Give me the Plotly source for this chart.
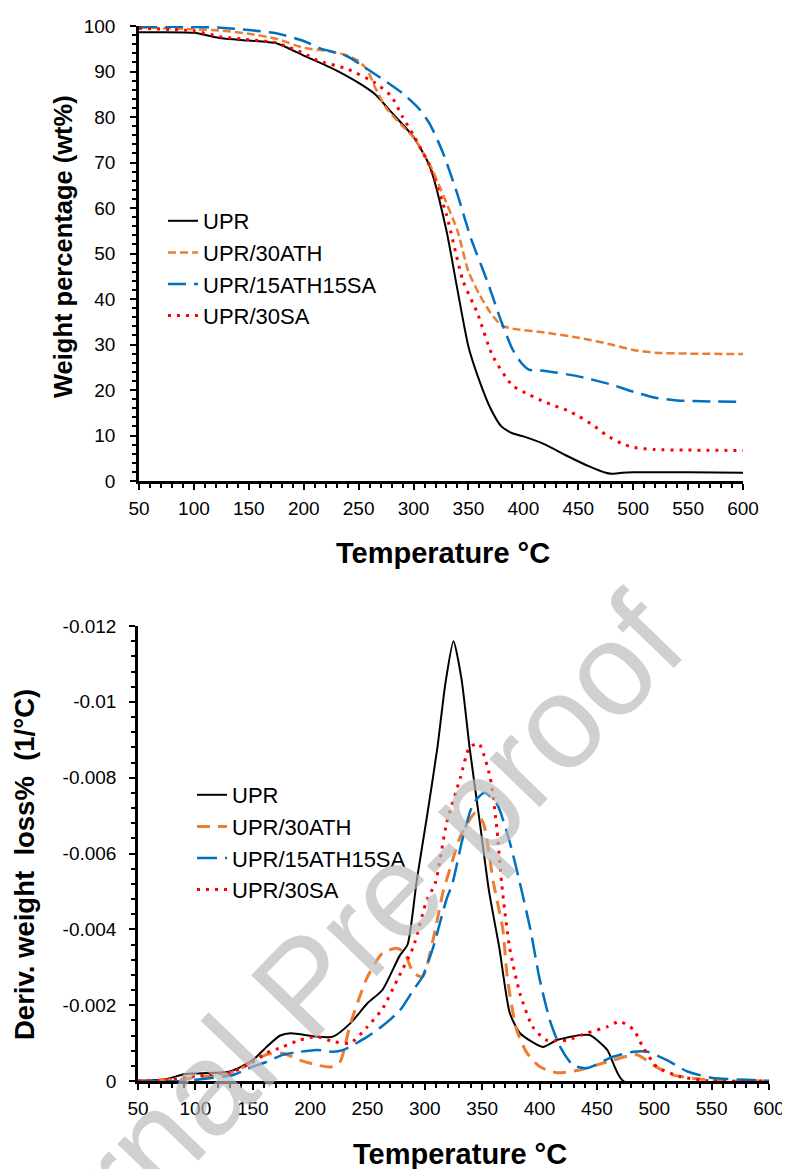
import plotly.graph_objects as go

# ---------------- data: TGA (weight %) ----------------
t_upr = [50, 100, 125, 150, 175, 200, 225, 250, 265, 280, 300, 315, 330, 340, 350, 360, 370, 380, 390, 400, 420, 440, 460, 475, 480, 490, 500, 550, 600]
w_upr = [98.6, 98.5, 97.3, 96.8, 96.2, 93.5, 90.8, 87.5, 85.0, 81.0, 75.6, 69.0, 55.0, 42.0, 29.5, 22.0, 16.0, 12.0, 10.5, 9.8, 8.0, 5.5, 3.2, 1.8, 1.6, 1.8, 1.9, 1.9, 1.8]

t_ath = [50, 75, 100, 125, 150, 175, 200, 225, 240, 250, 258, 265, 275, 290, 300, 315, 325, 340, 350, 360, 370, 380, 390, 420, 450, 480, 500, 520, 550, 600]
w_ath = [99.7, 99.5, 99.3, 99.0, 98.3, 97.2, 95.2, 94.4, 93.5, 92.3, 90.3, 86.5, 82.0, 78.0, 75.5, 69.5, 64.0, 55.0, 46.0, 41.0, 37.0, 34.2, 33.5, 32.6, 31.5, 30.0, 28.8, 28.2, 28.0, 27.9]

t_mix = [50, 100, 125, 150, 175, 200, 215, 240, 255, 270, 290, 305, 315, 327, 340, 352, 367, 380, 390, 398, 405, 420, 450, 480, 500, 520, 540, 570, 600]
w_mix = [99.8, 99.8, 99.6, 99.1, 98.4, 96.7, 95.1, 93.3, 91.0, 88.6, 85.2, 81.8, 78.4, 72.0, 63.0, 53.5, 44.0, 35.0, 29.0, 26.0, 24.5, 24.2, 23.0, 21.2, 19.6, 18.3, 17.7, 17.5, 17.4]

t_sa = [50, 100, 125, 150, 175, 200, 212, 240, 265, 280, 290, 300, 315, 330, 345, 358, 372, 390, 405, 420, 440, 450, 465, 476, 490, 500, 520, 550, 600]
w_sa = [99.5, 98.9, 97.6, 97.0, 96.3, 94.0, 92.5, 90.5, 87.5, 84.5, 80.0, 76.0, 69.0, 58.5, 44.0, 37.0, 27.5, 21.0, 19.0, 17.3, 15.5, 14.3, 12.0, 10.0, 8.2, 7.4, 6.9, 6.8, 6.7]

# ---------------- data: DTG (deriv. weight loss) ----------------
dt_upr = [50, 75, 90, 100, 130, 150, 162, 174, 183, 206, 220, 235, 250, 263, 278, 285, 293, 302, 311, 318, 325, 332, 339, 348, 356, 365, 374, 383, 403, 415, 435, 444, 459, 473, 600]
d_upr = [0, -0.00005, -0.00018, -0.0002, -0.00025, -0.00055, -0.0009, -0.0012, -0.00126, -0.00117, -0.00117, -0.00152, -0.00205, -0.0024, -0.0033, -0.0036, -0.0053, -0.007, -0.0088, -0.0105, -0.0116, -0.0106, -0.0088, -0.0068, -0.005, -0.0035, -0.0018, -0.00126, -0.0009, -0.00108, -0.00121, -0.00121, -0.00082, 0, 0]

dt_ath = [50, 90, 100, 130, 150, 162, 176, 191, 206, 218, 226, 235, 250, 263, 275, 282, 290, 298, 307, 316, 322, 331, 344, 351, 360, 368, 372, 380, 389, 400, 415, 435, 464, 485, 499, 516, 540, 560, 600]
d_ath = [0, -0.00005, -0.0001, -0.0002, -0.0005, -0.0007, -0.00073, -0.00055, -0.00042, -0.00037, -0.0005, -0.0015, -0.00275, -0.00337, -0.0035, -0.0034, -0.00285, -0.00275, -0.0037, -0.005, -0.0056, -0.00645, -0.00707, -0.0068, -0.0052, -0.004, -0.0027, -0.00135, -0.00074, -0.00038, -0.00022, -0.00029, -0.00055, -0.00069, -0.00042, -0.00016, -0.00005, 0, 0]

dt_mix = [50, 90, 100, 133, 150, 162, 176, 191, 206, 220, 229, 250, 263, 278, 290, 298, 307, 319, 324, 333, 342, 352, 363, 374, 383, 392, 400, 409, 418, 429, 441, 464, 482, 494, 511, 529, 551, 581, 600]
d_mix = [0, 0, -0.00003, -0.00016, -0.00038, -0.0005, -0.00069, -0.00077, -0.00082, -0.00077, -0.00082, -0.00117, -0.00145, -0.00185, -0.0024, -0.00275, -0.0035, -0.0048, -0.0052, -0.0064, -0.0073, -0.0076, -0.0073, -0.0063, -0.0052, -0.004, -0.0027, -0.0016, -0.0009, -0.00042, -0.00034, -0.00064, -0.00077, -0.00077, -0.00055, -0.00025, -0.00008, -0.00003, 0]

dt_sa = [50, 75, 92, 100, 133, 150, 162, 176, 191, 206, 220, 235, 250, 263, 276, 290, 302, 309, 319, 331, 339, 347, 357, 363, 367, 374, 383, 394, 406, 424, 441, 459, 470, 482, 490, 502, 522, 550, 600]
d_sa = [0, -0.00002, -0.0001, -0.00013, -0.00025, -0.0005, -0.00074, -0.0009, -0.00108, -0.00117, -0.00104, -0.001, -0.00143, -0.0019, -0.00267, -0.00354, -0.0048, -0.0052, -0.0068, -0.008, -0.0088, -0.0089, -0.008, -0.0066, -0.0052, -0.0035, -0.0023, -0.00143, -0.00108, -0.00108, -0.00126, -0.00143, -0.00157, -0.00135, -0.0009, -0.00038, -0.00012, 0, 0]

names = ["UPR", "UPR/30ATH", "UPR/15ATH15SA", "UPR/30SA"]
x_ticks = [50, 100, 150, 200, 250, 300, 350, 400, 450, 500, 550, 600]
w_ticks = [0, 10, 20, 30, 40, 50, 60, 70, 80, 90, 100]
d_tickvals = [0, -0.002, -0.004, -0.006, -0.008, -0.01, -0.012]
d_ticktext = ["0", "-0.002", "-0.004", "-0.006", "-0.008", "-0.01", "-0.012"]

BLACK = "#000000"
ORANGE = "#ED7D31"
BLUE = "#0070C0"
RED = "#FF0000"
FONT = "Liberation Sans, Arial, sans-serif"

fig = go.Figure()

top_styles = [
    dict(color=BLACK, width=2, dash="solid"),
    dict(color=ORANGE, width=2.5, dash="8px,4px"),
    dict(color=BLUE, width=2.5, dash="18px,8px"),
    dict(color=RED, width=3, dash="3px,6px"),
]
bot_styles = [
    dict(color=BLACK, width=2, dash="solid"),
    dict(color=ORANGE, width=3, dash="13px,8px"),
    dict(color=BLUE, width=2.5, dash="20px,8px"),
    dict(color=RED, width=3, dash="3px,6px"),
]

top_data = [(t_upr, w_upr), (t_ath, w_ath), (t_mix, w_mix), (t_sa, w_sa)]
bot_data = [(dt_upr, d_upr), (dt_ath, d_ath), (dt_mix, d_mix), (dt_sa, d_sa)]

for (x, y), name, st in zip(top_data, names, top_styles):
    fig.add_trace(go.Scatter(x=x, y=y, mode="lines", name=name, line=dict(shape="spline", smoothing=0.6, **st),
                             xaxis="x", yaxis="y", legend="legend"))
for (x, y), name, st in zip(bot_data, names, bot_styles):
    fig.add_trace(go.Scatter(x=x, y=y, mode="lines", name=name, line=dict(shape="spline", smoothing=0.6, **st),
                             xaxis="x2", yaxis="y2", legend="legend2"))

# the page body has an 8px margin: the figure starts at (8, 8) of the window
OFF = 8
W, H = 790 - OFF, 1169 - OFF

def px(xp):
    return (xp - OFF) / W

def py(yp):
    return 1 - (yp - OFF) / H

axis_common = dict(showgrid=False, zeroline=False, showline=True, linecolor="black", linewidth=2.5,
                   ticks="outside", ticklen=6, tickwidth=2, tickcolor="black", automargin=False,
                   tickfont=dict(family=FONT, size=19, color="black"), mirror=False)

minor_x = dict(dtick=10, tick0=50, ticklen=4, tickwidth=1.5, tickcolor="black", ticks="outside")

fig.update_layout(
    width=W, height=H,
    margin=dict(l=0, r=0, t=0, b=0, autoexpand=False),
    paper_bgcolor="white", plot_bgcolor="white",
    showlegend=True,
    xaxis=dict(domain=[px(139), px(743)], range=[50, 600], anchor="y", tickmode="array", tickvals=x_ticks,
               minor=minor_x, ticklabelstandoff=2, **axis_common),
    yaxis=dict(domain=[py(481), py(26)], range=[0, 100], anchor="x", tickmode="array", tickvals=w_ticks,
               minor=dict(dtick=2, tick0=0, ticklen=4, tickwidth=1.5, tickcolor="black", ticks="outside"),
               ticklabelstandoff=11, **axis_common),
    xaxis2=dict(domain=[px(138), px(769)], range=[50, 600], anchor="y2", tickmode="array", tickvals=x_ticks,
                minor=minor_x, ticklabelstandoff=2, **axis_common),
    yaxis2=dict(domain=[py(1081), py(626)], range=[0, -0.012], anchor="x2", tickmode="array",
                tickvals=d_tickvals, ticktext=d_ticktext,
                minor=dict(dtick=0.0004, tick0=0, ticklen=4, tickwidth=1.5, tickcolor="black", ticks="outside"),
                ticklabelstandoff=9, **axis_common),
    legend=dict(x=px(163), y=py(200), xanchor="left", yanchor="top", bgcolor="rgba(0,0,0,0)",
                font=dict(family=FONT, size=22, color="black"), tracegroupgap=0, itemwidth=30),
    legend2=dict(x=px(192), y=py(774), xanchor="left", yanchor="top", bgcolor="rgba(0,0,0,0)",
                 font=dict(family=FONT, size=22, color="black"), tracegroupgap=0, itemwidth=30),
)

x_title_font = dict(family=FONT, size=29, color="black")
annotations = [
    dict(text="<b>Weight percentage (wt%)</b>", x=px(63), y=py(247), textangle=-90,
         font=dict(family=FONT, size=25.5, color="black")),
    dict(text="<b>Temperature °C</b>", x=px(443), y=py(553), font=x_title_font),
    dict(text="<b>Deriv. weight\u00a0 loss%\u00a0 (1/°C)</b>", x=px(24), y=py(865), textangle=-90,
         font=dict(family=FONT, size=27.5, color="black")),
    dict(text="<b>Temperature °C</b>", x=px(460), y=py(1154), font=x_title_font),
    dict(text="Journal Pre-proof", x=px(304), y=py(985), textangle=-46,
         font=dict(family=FONT, size=132, color="rgba(185,185,185,0.68)")),
]
for a in annotations:
    a.update(xref="paper", yref="paper", showarrow=False, xanchor="center", yanchor="middle")
fig.update_layout(annotations=annotations)

fig.write_html("out.html")
